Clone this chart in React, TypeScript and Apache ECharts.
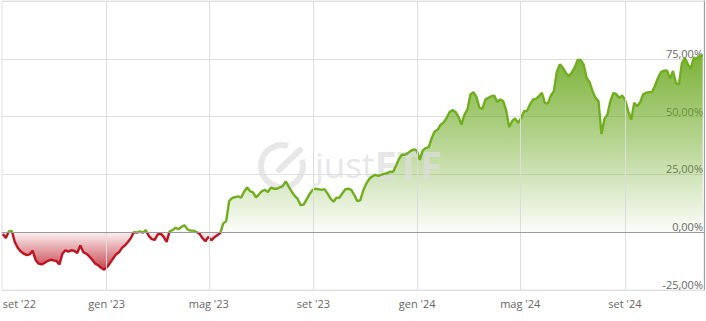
import React, { useEffect, useRef } from 'react';
import * as echarts from 'echarts';

// Series: cumulative performance (%) sampled every 3.5 days starting 1 Sep 2022
const startDate = '2022-09-01';
const stepDays = 3.5;
const spanDays = 824;

const perfValues: number[] = [
  -0.8, -2.5, 0.3, 0.6, -4.2, -6.7, -8.3, -9.3, -9.9, -9.6,
  -8.0, -12.0, -13.6, -13.9, -13.3, -12.5, -11.9, -12.2, -12.5, -13.9,
  -9.3, -7.8, -8.4, -7.8, -8.1, -9.0, -5.7, -8.6, -9.3, -10.4,
  -11.9, -13.6, -14.3, -15.4, -16.2, -15.1, -13.3, -11.4, -9.6, -8.7,
  -6.8, -5.7, -4.2, -2.5, 0.1, -0.2, 0.4, -0.2, 0.9, -1.6,
  -3.0, -3.3, -1.0, -0.6, -2.0, -4.2, 0.4, 0.9, 1.9, 1.3,
  2.3, 3.0, 1.2, 0.7, 0.7, 0.1, -0.6, -2.5, -3.9, -2.0,
  -3.5, -2.2, -1.3, -0.4, 3.8, 4.8, 13.5, 14.8, 15.2, 15.5,
  14.9, 17.5, 19.4, 17.8, 17.2, 15.1, 16.4, 17.8, 18.3, 17.4,
  19.3, 18.8, 18.8, 19.4, 19.9, 22.0, 19.7, 17.5, 15.7, 14.4,
  11.7, 11.9, 14.2, 16.5, 18.3, 18.8, 18.6, 18.3, 18.6, 16.8,
  14.6, 13.2, 14.9, 14.9, 16.8, 18.6, 18.8, 18.3, 16.1, 13.5,
  13.8, 18.0, 20.9, 23.0, 24.1, 24.8, 24.4, 24.8, 25.2, 25.5,
  26.2, 26.1, 28.7, 31.7, 33.5, 33.5, 34.2, 35.2, 35.8, 35.4,
  31.3, 35.4, 36.4, 36.8, 40.7, 43.6, 44.4, 46.5, 47.5, 49.4,
  52.0, 52.8, 52.0, 49.9, 46.5, 50.9, 53.1, 59.6, 60.6, 58.5,
  54.0, 53.3, 57.4, 58.1, 58.8, 59.1, 56.4, 57.4, 56.7, 52.7,
  45.5, 48.0, 49.2, 47.3, 49.3, 52.3, 52.5, 55.2, 57.4, 57.7,
  58.8, 60.3, 55.9, 55.7, 59.1, 61.0, 69.3, 72.6, 71.2, 69.0,
  67.5, 69.0, 71.2, 74.5, 74.5, 72.6, 66.8, 64.9, 61.0, 58.1,
  56.7, 42.5, 49.0, 50.9, 56.7, 60.3, 59.6, 58.1, 59.1, 57.0,
  52.3, 48.7, 56.0, 54.5, 56.2, 59.6, 60.3, 60.6, 60.6, 63.5,
  66.8, 69.3, 69.9, 70.0, 66.4, 69.7, 64.6, 63.9, 73.0, 75.4,
  72.6, 70.7, 75.5, 74.8, 76.2, 76.5,
];

const tickDates = ['2022-09-01', '2023-01-01', '2023-05-01', '2023-09-01', '2024-01-01', '2024-05-01', '2024-09-01'];
const tickLabels = ["set '22", "gen '23", "mag '23", "set '23", "gen '24", "mag '24", "set '24"];

const yMin = -25;
const yMax = 100;
const yStep = 25;

const GREEN = '#6fae1c';
const RED = '#bd1420';

export default function App() {
  const ref = useRef<HTMLDivElement>(null);

  useEffect(() => {
    if (!ref.current) return;
    const chart = echarts.init(ref.current, null, { renderer: 'svg' });
    const DAY = 86400000;
    const t0 = Date.parse(startDate + 'T00:00:00Z');
    const tickTimes = tickDates.map((d) => Date.parse(d + 'T00:00:00Z'));
    const data = perfValues.map((v, i) => [t0 + i * stepDays * DAY, v]);
    const vmax = Math.max(...perfValues);
    const vmin = Math.min(...perfValues);
    const zeroOff = vmax / (vmax - vmin);

    const areaGradient = new echarts.graphic.LinearGradient(0, 0, 0, 1, [
      { offset: 0, color: 'rgba(106,168,30,0.88)' },
      { offset: zeroOff * 0.5, color: 'rgba(106,168,30,0.48)' },
      { offset: zeroOff, color: 'rgba(106,168,30,0.02)' },
      { offset: zeroOff, color: 'rgba(190,25,35,0.06)' },
      { offset: 1, color: 'rgba(185,20,35,0.8)' },
    ]);

    const wm = 'rgba(222,222,222,0.72)';
    const labelStyle = {
      show: true,
      position: 'start',
      distance: 8,
      color: '#666',
      fontSize: 11,
      fontFamily: 'Open Sans',
    };

    chart.setOption({
      animation: false,
      grid: { left: 2, right: 2, top: 1, bottom: 31, show: true, borderColor: '#e0e0e0', borderWidth: 1 },
      xAxis: {
        type: 'time',
        min: t0 - DAY,
        max: t0 + spanDays * DAY,
        axisLine: { show: true, lineStyle: { color: '#a0a0a0' } },
        axisTick: { show: false },
        splitLine: { show: false },
        axisLabel: { show: false },
      },
      yAxis: {
        type: 'value',
        position: 'right',
        min: yMin,
        max: yMax,
        interval: yStep,
        axisLine: { show: true, lineStyle: { color: '#a0a0a0' } },
        axisTick: { show: false },
        splitLine: { show: true, lineStyle: { color: '#e0e0e0' } },
        axisLabel: {
          inside: true,
          showMaxLabel: false,
          verticalAlign: 'bottom',
          margin: 1,
          color: '#666',
          fontSize: 11,
          fontFamily: 'Open Sans',
          formatter: (v: number) => v.toFixed(2).replace('.', ',') + '%',
        },
      },
      visualMap: {
        show: false,
        type: 'piecewise',
        seriesIndex: 1,
        dimension: 1,
        pieces: [
          { min: -1000, max: 0, color: RED },
          { min: 0, max: 1000, color: GREEN },
        ],
      },
      graphic: [
        {
          type: 'arc',
          z: 2,
          silent: true,
          shape: { cx: 282, cy: 166, r: 21, startAngle: -0.3, endAngle: 5.0, clockwise: true },
          style: { stroke: wm, lineWidth: 6, fill: 'none' },
        },
        {
          type: 'line',
          z: 2,
          silent: true,
          shape: { x1: 279, y1: 170, x2: 300, y2: 150 },
          style: { stroke: wm, lineWidth: 6, lineCap: 'round' },
        },
        {
          type: 'text',
          z: 2,
          silent: true,
          x: 315,
          y: 164,
          style: {
            text: '{a|just}{b|ETF}',
            verticalAlign: 'middle',
            rich: {
              a: { fill: wm, fontSize: 35, fontFamily: 'Open Sans' },
              b: { fill: wm, fontSize: 40, fontWeight: 'bold', fontFamily: 'Open Sans' },
            },
          },
        },
      ],
      series: [
        {
          type: 'line',
          z: 1,
          data,
          showSymbol: false,
          silent: true,
          lineStyle: { width: 0, opacity: 0 },
          itemStyle: { color: GREEN },
          areaStyle: { color: areaGradient, opacity: 1 },
          markLine: {
            silent: true,
            symbol: ['none', 'none'],
            label: { show: false },
            lineStyle: { type: 'solid', width: 1 },
            emphasis: { disabled: true },
            data: [
              ...tickTimes.map((t, i) => ({
                xAxis: t,
                name: tickLabels[i],
                lineStyle: { color: i === 0 ? 'rgba(0,0,0,0)' : '#dcdcdc', type: 'solid', width: 1 },
                label: { ...labelStyle, formatter: '{b}', align: i === 0 ? 'left' : 'center' },
              })),
              { yAxis: 0, lineStyle: { color: '#9a9a9a', type: 'solid', width: 1 } },
            ],
          },
        },
        {
          type: 'line',
          z: 3,
          data,
          showSymbol: false,
          silent: true,
          lineStyle: { width: 2.4 },
        },
      ],
    });

    return () => chart.dispose();
  }, []);

  return <div ref={ref} style={{ position: 'absolute', left: 0, top: 0, width: 706, height: 321 }} />;
}
